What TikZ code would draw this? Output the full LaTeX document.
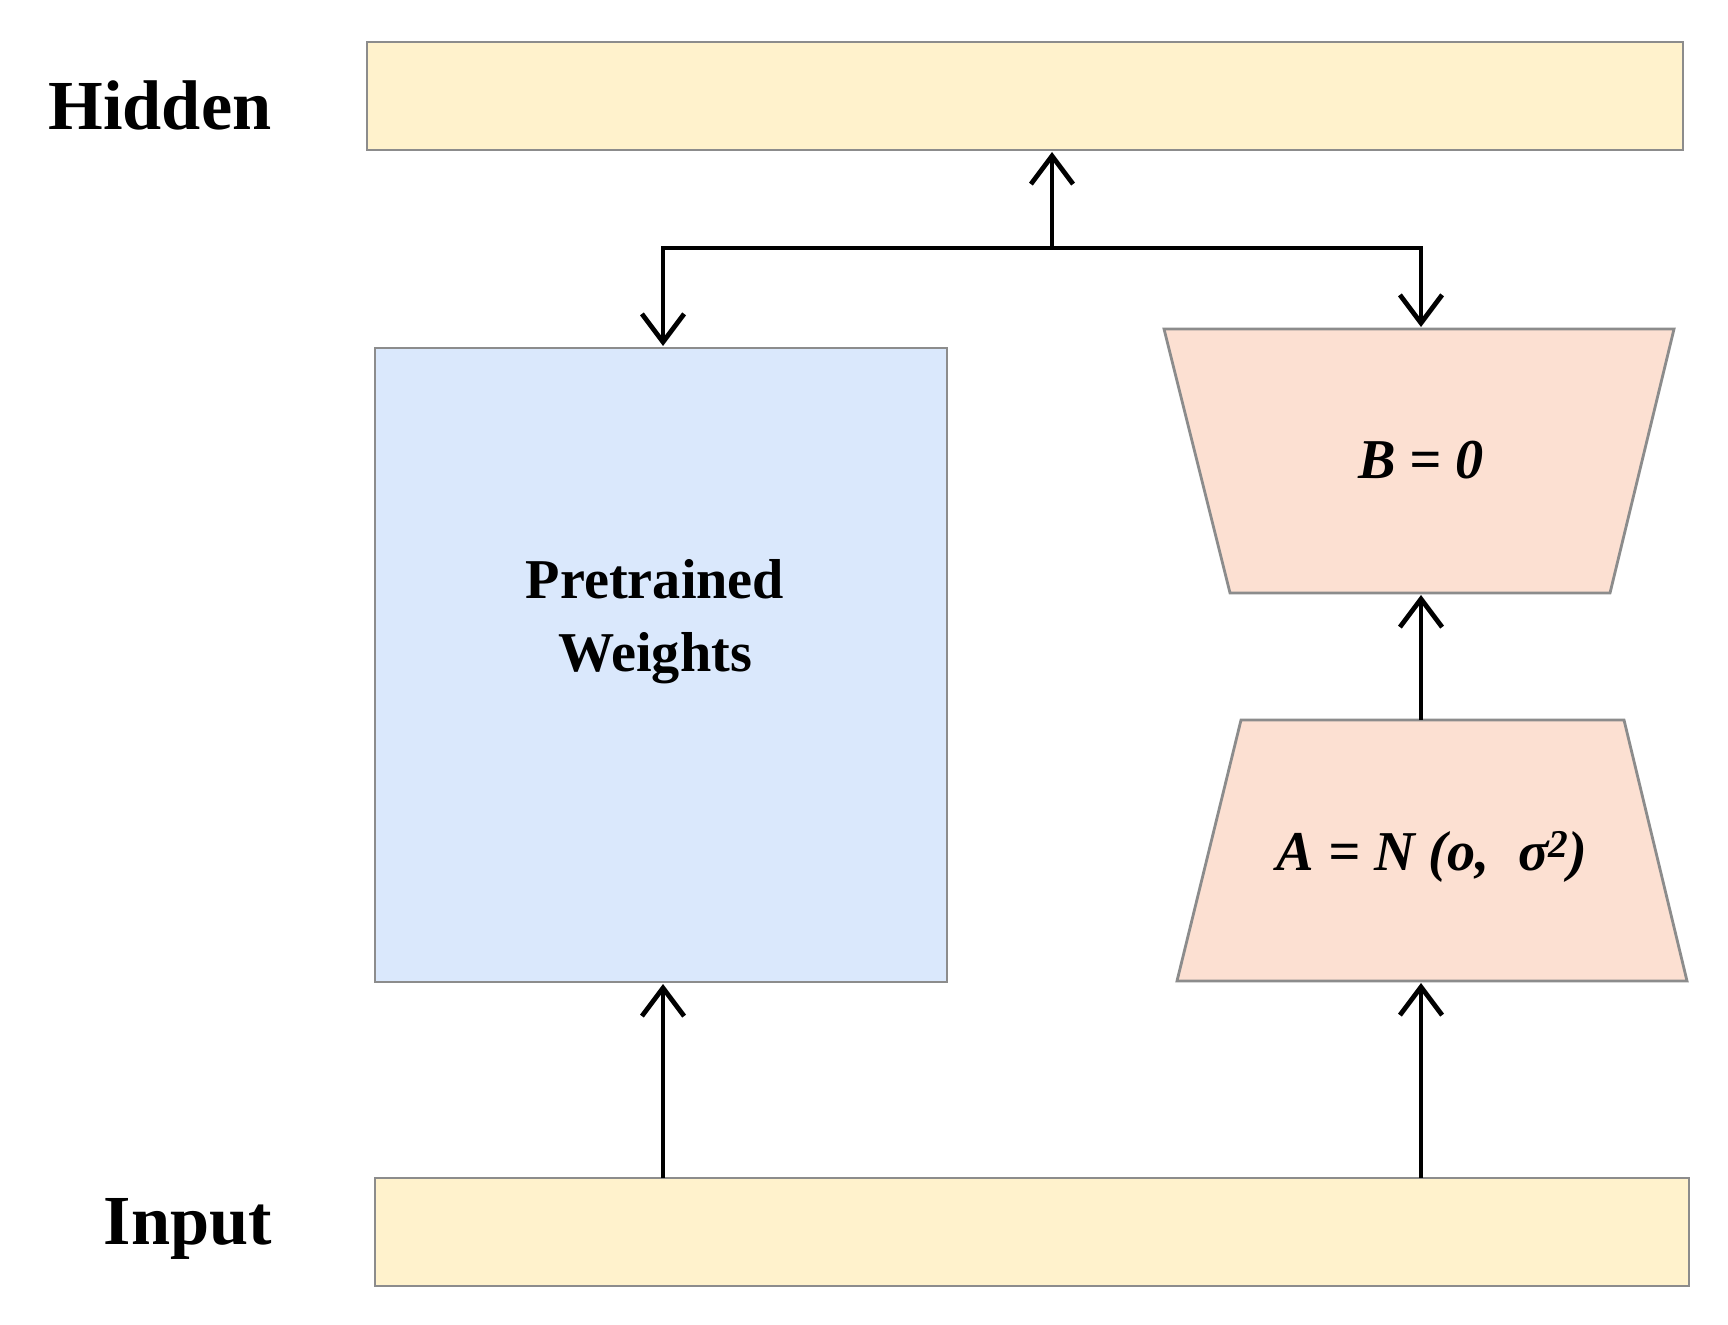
\documentclass[tikz,border=0pt]{standalone}
\usepackage{fontspec}
\setmainfont{Liberation Serif}
\usetikzlibrary{arrows.meta}
\definecolor{cy}{HTML}{FFF2CC}
\definecolor{cb}{HTML}{DAE8FC}
\definecolor{co}{HTML}{FCE0D2}
\begin{document}
\begin{tikzpicture}[x=0.025cm,y=-0.025cm,
  box/.style={draw=black!45,line width=2pt},
  arr/.style={line width=3pt,-{Straight Barb[length=20pt,width=30pt,line width=3.4pt]}},
  lbl/.style={font=\fontsize{50}{56}\selectfont\bfseries}]
\useasboundingbox (0,0) rectangle (1728,1325);
\fill[white] (0,0) rectangle (1728,1325);
\draw[box,fill=cy] (367,42) rectangle (1683,150);
\coordinate (hid) at (1052,150);
\draw[box,fill=cy] (375,1178) rectangle (1689,1286);
\draw[box,fill=cb] (375,348) rectangle (947,982);
\draw[box,fill=co] (1164,329) -- (1674,329) -- (1610,593) -- (1230,593) -- cycle;
\draw[box,fill=co] (1241,720) -- (1624,720) -- (1687,981) -- (1177,981) -- cycle;
\node[lbl] (h) at (160,105) {Hidden};
\node[lbl] (i) at (188,1229) {Input};
\node[font=\fontsize{40}{52}\selectfont\bfseries,align=center] (pw) at (655,622) {Pretrained\\Weights};
\node[font=\fontsize{40}{46}\selectfont\bfseries\itshape] (b) at (1421,460) {B = 0};
\node[font=\fontsize{40}{46}\selectfont\bfseries\itshape] (a) at (1432,857) {A = N (o,~ σ\textsuperscript{2})};
\coordinate (br) at (1052,248);
\draw[arr] (663,1178) -- (663,984);
\draw[arr] (1421,1178) -- (1421,983);
\draw[arr] (1421,720) -- (1421,595);
\draw[arr] (br) -- (1052,152);
\draw[arr] (br) -- (663,248) -- (663,346);
\draw[arr] (br) -- (1421,248) -- (1421,327);
\end{tikzpicture}
\end{document}
